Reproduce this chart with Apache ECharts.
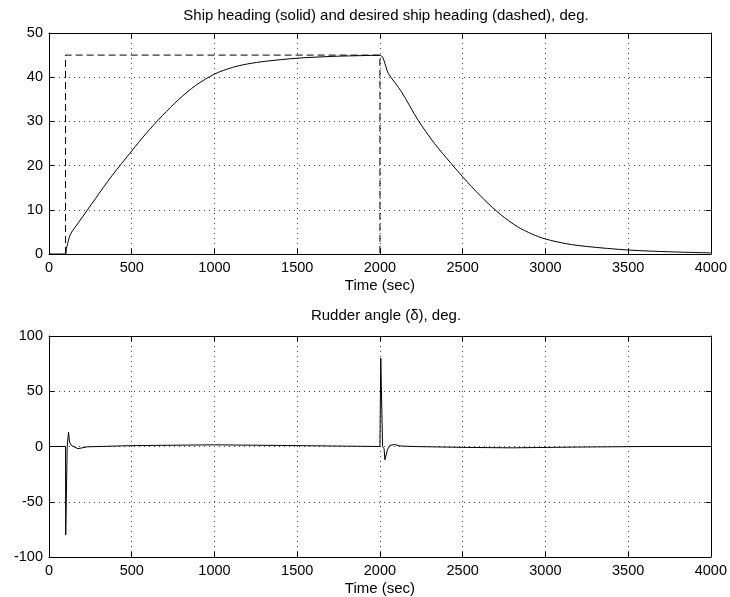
<!DOCTYPE html>
<html>
<head>
<meta charset="utf-8">
<script src="https://cdn.jsdelivr.net/npm/echarts@6/dist/echarts.min.js"></script>
<style>html,body{margin:0;padding:0;background:#fff}#c{width:730px;height:597px}</style>
</head>
<body>
<div id="c"></div>
<script>
// Ship heading (solid)
var headingT = [0,100,105,112,130,180,280,380,500,585,685,785,885,1000,1108,1200,1308,1500,1708,1850,2000,2010,2020,2035,2050,2130,2230,2330,2430,2530,2630,2730,2830,2920,3000,3130,3250,3500,3750,4000];
var headingV = [0,0,1.2,2.3,4.5,7.2,12.5,17.7,23.3,27.2,31.3,35.0,38.1,40.7,42.2,43.0,43.6,44.3,44.7,44.85,44.95,44.8,44.3,42.5,40.9,36.7,30.3,25.0,20.5,16.2,12.3,8.9,6.2,4.5,3.4,2.3,1.7,0.9,0.5,0.25];
// Desired ship heading (dashed)
var desiredT = [100,100,2000,2000];
var desiredV = [0,45,45,0];
// Rudder angle
var rudderT = [0,100,101,108,110,118,124,135,175,230,500,1000,1500,2000,2004,2005,2014,2016,2025,2030,2040,2045,2060,2087,2120,2200,2500,2800,3200,3600,4000];
var rudderV = [0,0,-80,-80,0,13,4,1,-2,-0.3,0.8,1.5,0.8,0,0,80,80,0,-2,-12,-12,-3,1,1.8,0.5,0,-0.8,-1.2,-0.5,0,0];
// Tick settings
var xTicks = {min:0,max:4000,interval:500};
var topY = {min:0,max:50,interval:10};
var botY = {min:-100,max:100,interval:50};

function pairs(t,v){return t.map(function(x,i){return [x,v[i]];});}

var font = 'Liberation Sans, Arial, sans-serif';
var gridStyle = {show:true,lineStyle:{color:'#444',type:[1,4],width:1}};
function fmt(v){return String(v);}
function xAx(g,pos,main){
  return {type:'value',gridIndex:g,position:pos,min:xTicks.min,max:xTicks.max,interval:xTicks.interval,
    axisLine:{show:true,onZero:false,lineStyle:{color:'#000',width:1}},
    axisTick:{show:true,inside:true,length:5,lineStyle:{color:'#000'}},
    axisLabel:{show:main,color:'#000',fontSize:14.5,fontFamily:font,margin:6,formatter:fmt},
    splitLine:main?gridStyle:{show:false},
    name:main?'Time (sec)':'',nameLocation:'middle',nameGap:24,
    nameTextStyle:{color:'#000',fontSize:15,fontFamily:font}};
}
function yAx(g,pos,main,r){
  return {type:'value',gridIndex:g,position:pos,min:r.min,max:r.max,interval:r.interval,
    axisLine:{show:true,onZero:false,lineStyle:{color:'#000',width:1}},
    axisTick:{show:true,inside:true,length:5,lineStyle:{color:'#000'}},
    axisLabel:{show:main,color:'#000',fontSize:14.5,fontFamily:font,margin:6,formatter:fmt},
    splitLine:main?gridStyle:{show:false}};
}

var chart = echarts.init(document.getElementById('c'),null,{renderer:'canvas'});
chart.setOption({
  animation:false,
  backgroundColor:'#fff',
  title:[
    {text:'Ship heading (solid) and desired ship heading (dashed), deg.',left:381,top:3,textAlign:'center',
     textStyle:{fontSize:15,fontWeight:'normal',color:'#000',fontFamily:font}},
    {text:'Rudder angle (\u03b4), deg.',left:381,top:303,textAlign:'center',
     textStyle:{fontSize:15,fontWeight:'normal',color:'#000',fontFamily:font}}
  ],
  grid:[
    {left:49,right:17,top:33,height:221},
    {left:49,right:17,top:336,height:221}
  ],
  xAxis:[xAx(0,'bottom',true),xAx(0,'top',false),xAx(1,'bottom',true),xAx(1,'top',false)],
  yAxis:[yAx(0,'left',true,topY),yAx(0,'right',false,topY),yAx(1,'left',true,botY),yAx(1,'right',false,botY)],
  series:[
    {type:'line',xAxisIndex:0,yAxisIndex:0,data:pairs(desiredT,desiredV),showSymbol:false,
     lineStyle:{color:'#000',width:1,type:[7,4]},z:2},
    {type:'line',xAxisIndex:0,yAxisIndex:0,data:pairs(headingT,headingV),showSymbol:false,
     smooth:0.3,lineStyle:{color:'#000',width:1},z:3},
    {type:'line',xAxisIndex:2,yAxisIndex:2,data:pairs(rudderT,rudderV),showSymbol:false,
     lineStyle:{color:'#000',width:1},z:3}
  ]
});
</script>
</body>
</html>
